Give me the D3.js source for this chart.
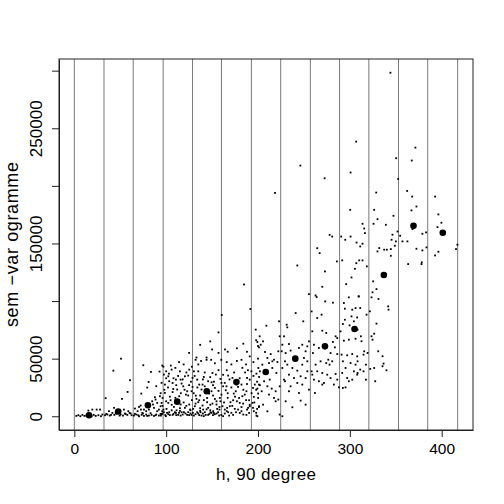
<!DOCTYPE html>
<html>
<head>
<meta charset="utf-8">
<script src="https://cdn.jsdelivr.net/npm/d3@7"></script>
<style>
  body { margin: 0; background: #fff; }
  svg text { font-family: "Liberation Sans", Arial, Helvetica, sans-serif; fill: #000; }
</style>
</head>
<body>
<div id="my_dataviz"></div>
<script>
var width = 504;
var height = 504;

// variogram cloud: lag distance h and semivariance (in thousands)
var cloudH = [
  2.2,4.4,6.6,8.8,11,13.1,18.9,21.1,23.3,26.2,29,30.5,15.3,19.6,24.3,28,
  33.4,35.9,38.5,41.4,43.5,45.7,50.4,53,55.1,57.7,60.2,62.4,37.7,43.2,54,58.8,
  50.8,42.5,60.6,58,34.1,51.9,
  64.9,67.5,70.4,73.3,75.8,78.3,81.2,84.1,86.7,89.2,92.1,95,
  66,70.4,72.2,68.9,75.8,84.8,90.3,93.9,86.7,92.1,88.5,95.7,81.2,74,
  75.1,83.4,92.8,80.9,79.4,89.2,72.9,87.7,93.2,95.7,
  34.8,39.9,45,49.3,55.9,61.3,66,69.6,74.7,79.4,83,88.5,93.9,72.5,78.3,90.3,85.6,
  137,148,150,157,164,167,177,184,188,198,200,144,133,125,
  97,105,110,114,132,135,138,144,149,153,160,166,171,177,182,187,191,195,200,119,128,
  95,100,103,108,113,118,122,127,131,135,140,142,148,152,157,162,166,169,174,180,186,189,195,199,202,100,115,
  94,98,102,107,111,116,120,125,130,134,137,142,151,157,162,167,171,184,188,193,198,202,151,124,104,
  96,100,106,110,119,122,128,132,137,141,148,153,158,163,167,172,177,182,187,191,196,201,115,144,175,
  95,99,101,104,108,111,114,118,121,125,129,132,136,140,143,147,151,155,160,166,171,176,184,191,198,97,106,115,126,137,148,158,
  184.8,191.7,160.5,157,197.5,
  98.6,103.3,112,116.8,121.5,127.6,133,138.5,144.6,149.4,154.8,160.2,164.9,170,175.8,179.4,185.6,190.3,195.4,200.1,
  96.1,102.3,108.4,113.1,125.1,129.4,134.9,139.6,145.7,150.4,155.5,161.3,166.4,174.7,180.1,188.1,194.6,
  97.5,105.9,110.6,120.4,125.1,128.7,136,145.7,150.4,159.1,163.8,172.2,176.5,183,191,196.5,201.2,
  94.3,97.5,102.3,109.5,113.1,116.8,124,127.6,133.8,138.5,142.1,149.4,153,157.7,163.8,168.6,180.1,187.4,195.4,
  95,100.4,104.8,111.3,115.7,120.4,126.5,131.2,136,140.3,144.6,151.2,154.8,159.1,163.8,169.3,172.9,178.3,183.8,189.2,193.9,199,
  98.6,107.7,114.2,118.6,122.9,128.7,132.3,139.6,146.8,153,158.4,165.7,173.6,178.3,183,187.4,194.6,200.1,
  102.3,107,115.7,124,130.2,133.8,141,149.4,154.1,160.2,167.5,174.7,182,188.1,192.8,198.3,
  96.1,99.7,103.3,107,110.6,115.7,119.3,122.9,126.5,130.2,134.9,137.4,141,145.7,148.3,151.9,156.6,162,167.5,172.9,182,190.3,198.3,
  218.5,
  201.8,209.1,222.9,199.3,202.9,205.5,201.1,207.6,213.8,217.4,221.1,212,204.7,200.4,215.6,220,212.7,206.6,201.1,199.3,204,210.2,214.9,219.2,223.6,217.4,222.1,212,205.5,201.1,210.2,219.2,223.6,199.3,215.6,210.2,222.1,223.6,
  231.2,231.9,241,249.3,228.3,226.5,233.7,225.8,230.1,235.5,244.6,248.2,253.7,251.8,255.5,229.4,231.9,237.4,242.8,248.2,253.7,250,226.5,233.7,228.3,239.2,246.4,251.8,242.8,235.5,229.4,248.2,253.7,233.7,244.6,255.5,230.1,246.4,237.4,251.8,226.5,242.8,255.5,
  262.7,263.8,270,272.9,273.2,281.6,258.4,264.5,269.2,259.1,270,274.3,284.5,286.3,260.9,266.3,281.6,283.7,279,286.3,259.8,268.1,274.3,277.9,276.5,280.8,262.7,264.5,259.1,270,275.4,284.5,260.9,266.3,271.8,279,286.3,262,270,282.6,288.1,258.4,
  305.5,301.8,296,298.9,293.5,309.8,294.6,302.6,306.2,301.8,308,294.6,292.4,289.9,299.7,304.4,293.5,298.9,306.2,291,297.1,302.6,308,292.4,300.8,306.2,295.3,304.4,291.7,297.1,302.6,308,292.4,298.9,295.3,
  313.8,315.6,316.4,313.8,311.3,310.2,313.8,318.5,309.5,311.3,318.2,308.4,312,312.7,315.6,314.9,319.3,308.4,311.3,314.9,317.5,317.5,308.4,
  326.5,330.1,325.8,339.2,347.5,346.4,351.9,345.4,350.1,349,344.6,340.3,337.4,332,330.1,344.6,325.4,329,324.7,323.6,331.2,341.7,342.1,321.8,329,326.5,323.6,324.7,330.9,335.6,336.7,335.6,339.9,326.5,322.2,327.6,
  367.1,372.5,354.8,357.3,362.7,368.2,379,383,372.5,379,383.4,363.5,378.3,378,
  396.4,399.7,395.4,396.4,392.8,417.1,415.6,
  344.2,306.9,246.1,272.5,300.8,350.4,367.4,371.4,352.6,328.7,362.4,367.9,392.8,300.4,300.8,278,280.8,290.6,295,264.5,267.1,285.9,291.7,307,307.3
];
var cloudG = [
  0.3,0.9,0,1.2,0.3,0.6,0,1.2,0.3,0.9,0,1.5,4.9,5.8,5.8,5.8,
  0.9,1.5,0.6,2.9,1.2,2.1,1.5,0.6,2.4,1.2,2.9,0.9,4.4,7.3,5.8,4.4,
  50,39.6,31.3,21.1,15.7,15.1,
  0.6,1.5,0,1.2,0.3,1.5,0.6,1.2,0.3,1.5,0.6,1.8,
  6.7,8.1,9.3,4.4,5.8,13,11.6,8.7,7.3,5.8,14.5,4.4,5.8,2.9,
  44.3,38.5,38.8,29.8,24.9,26.1,19.7,16.5,17.4,44,
  2.1,1.2,2.9,0.6,1.8,2.4,2.1,0.9,2.4,0.3,2.7,0.9,2.1,5.8,4.4,4.4,10.2,
  62,65,58,55,58,56,59,63,56,66,61,51,51,55,
  43,44,42,47,49,45,48,49,49,46,49,47,45,48,49,45,52,47,50,45,43,
  29,33,37,33,35,32,38,30,35,39,32,38,34,30,40,36,40,32,38,33,38,40,35,30,39,39,39,
  20,23,25,21,27,20,23,27,20,25,18,26,27,22,26,20,25,23,28,20,23,27,18,18,17,
  9,13,10,16,12,9,14,11,7,14,10,15,8,12,16,9,13,8,14,10,12,8,7,6,17,
  2,1,3,1,2,1,3,1.5,2.4,1,3,1.8,1,2.4,1.2,2,1,2.4,1.2,4.4,3,3.5,1.5,8.7,3,5.8,5.2,4.7,5.8,4.7,5.2,5.8,
  114.4,93.1,87.9,72.8,75.2,
  27.5,30.4,23.2,28.4,18.8,21.7,15.1,23.2,15.9,21.7,13,18.8,22.6,12.2,21.7,15.9,18.8,13.9,16.8,19.7,
  15.9,11.6,8.1,13,10.2,6.4,12.2,9.3,7.3,11,6.4,8.7,7.3,6.4,11.6,5.8,7.3,
  36.2,40.5,31.8,34.7,40.5,33.3,27.5,30.4,37.6,32.4,29,33.3,27.5,42,31.8,27.5,34.1,
  0.6,3.5,1.8,3.5,1.2,3.5,3.5,1.2,3.5,0.6,3.5,2.9,1.8,0.6,2.4,0.6,2.9,1.2,4.4,
  11.6,6.4,13.9,5.2,10.2,7.3,5.2,8.7,13.9,5.8,12.2,4.4,10.2,13,5.8,8.7,13.9,5.8,11,7.3,11.6,6.4,
  20.3,23.7,17.4,26,21.7,25.5,17.9,27.5,19.7,24.6,15.9,26,19.7,25.5,17.4,21.7,24.6,15.9,
  34.7,28.9,31.8,35.3,39,31.8,34.1,29.5,36.2,28.9,35.3,30.4,27.5,33.3,39,37,
  2.4,0.1,3.5,1.2,2.9,0.6,3.5,1.2,2.4,0.6,2.4,3.5,0.1,1.2,3.5,2.9,3.5,0.1,3.5,1.2,4.4,2.9,0.6,
  193.9,
  69.4,78.6,82.4,64.5,62.1,65,59.8,55.8,54,49.1,47.1,46.2,44.8,41.9,41.9,37.6,31.8,30.4,27.5,24,21.7,26,24,21.7,26,15.9,14.5,18.8,10.1,8.7,4.3,13,1.5,0,47.7,50.6,56.4,69.4,
  79.5,77.2,89.6,82.4,69.4,62.1,62.7,56.4,54.9,57,59.3,62.1,60.7,56.4,65,47.7,44.8,41.9,39.6,44.8,47.7,50.6,41.9,36.1,31.8,33.2,34.7,33.2,28.9,26,30.4,27.5,39,21.7,20.2,23.1,13,13.6,7.8,10.1,0,130.9,106,
  104.9,103.5,112.4,125.7,99.7,98.6,91,85.3,88.2,73.7,74.3,72.3,69.4,67.9,62.1,59.3,64.5,59.8,54.9,54,54.9,47.7,46.2,44.8,49.1,47.7,44.8,39,36.1,37.6,36.1,36.7,31.8,30.4,28.9,33.2,31.8,20.2,27.5,27.5,25.1,39,
  128,120.5,114.7,103.2,98.3,104,93.4,92.5,93.9,86.7,85.8,83.8,80.1,73.7,78.9,82.4,65.6,66.5,67.3,53.5,52.9,54,52,47.7,46.2,44.8,41.9,39,37.6,33.2,31.8,36.1,24.6,30.4,25.1,
  167.1,163,159,149.8,147.4,135.3,135.3,130.1,104.1,94,88.2,75.2,69.4,65.1,56.4,53.5,55,47.7,40.5,39,44.8,31.8,37.6,
  179.2,171.1,167.1,166.2,174,157.6,160.4,153.2,151.8,148,145.1,144.6,144.6,146,143.1,139.3,117.1,110.4,107.6,103.2,101.8,95.4,92.5,91.1,80.4,71.7,69.4,66.5,56.4,52.1,45.7,43.4,39.9,41.9,41.1,30.4,
  178.7,182.1,156.7,151.8,151.8,162.5,158.4,159.6,145.4,144,146.6,132.1,133.6,132.1,
  175.2,168,164.2,142.8,139.6,148.9,145.1,
  298.2,238.4,217.6,206.6,211.6,224,222,233.2,206,194.2,195.6,190.7,190.7,179.2,156,157.5,156,156,153.2,145.9,141.6,134.4,135.3,132.9,150.8
];

// binned semivariogram (mean per lag class)
var binH = [16, 47.8, 80.1, 112, 144.2, 176.5, 208.4, 240.6, 272.9, 305.1, 337, 369.3, 401.2];
var binG = [0.9, 4.1, 9.5, 12.7, 21.7, 29.8, 38.4, 50, 60.7, 75.7, 122.6, 165.4, 159.3];

// lag class limits
var breaks = [0, 32.3, 64.1, 96.7, 128.7, 160.2, 192.8, 224.7, 257, 288.8, 320.7, 353, 384.8, 417.4];

var xTicks = [0, 100, 200, 300, 400];
var yTicks = [0, 50000, 100000, 150000, 200000, 250000, 300000];
var yTickLabels = ["0", "50000", "", "150000", "", "250000", ""];

var xLim = [0, 417.4];
var yLim = [0, 298200];

var cloud = cloudH.map((h, i) => ({h: h, g: cloudG[i] * 1000}));
var bins = binH.map((h, i) => ({h: h, g: binG[i] * 1000}));

var plotL = 59, plotR = 473, plotT = 59, plotB = 430;

// R style 4% axis extension
var padX = (xLim[1] - xLim[0]) * 0.04;
var padY = (yLim[1] - yLim[0]) * 0.04;
var x = d3.scaleLinear().domain([xLim[0] - padX, xLim[1] + padX]).range([plotL, plotR]);
var y = d3.scaleLinear().domain([yLim[0] - padY, yLim[1] + padY]).range([plotB, plotT]);

var svg = d3.select("#my_dataviz")
  .append("svg")
    .attr("width", width)
    .attr("height", height);

svg.append("defs").append("clipPath").attr("id", "clip")
  .append("rect")
    .attr("x", plotL).attr("y", plotT)
    .attr("width", plotR - plotL).attr("height", plotB - plotT);

var plot = svg.append("g").attr("clip-path", "url(#clip)");

// vertical lines at lag class limits
plot.selectAll(".brk")
  .data(breaks)
  .enter()
  .append("line")
    .attr("class", "brk")
    .attr("x1", d => x(d)).attr("x2", d => x(d))
    .attr("y1", plotT).attr("y2", plotB)
    .attr("stroke", "#7a7a7a")
    .attr("stroke-width", 1);

// cloud points
plot.selectAll(".pt")
  .data(cloud)
  .enter()
  .append("rect")
    .attr("class", "pt")
    .attr("x", d => x(d.h) - 0.9)
    .attr("y", d => y(d.g) - 0.9)
    .attr("width", 1.8)
    .attr("height", 1.8)
    .attr("fill", "#000");

// binned means
plot.selectAll(".bin")
  .data(bins)
  .enter()
  .append("circle")
    .attr("class", "bin")
    .attr("cx", d => x(d.h))
    .attr("cy", d => y(d.g))
    .attr("r", 3.3)
    .attr("fill", "#000");

// box
svg.append("rect")
  .attr("x", plotL).attr("y", plotT)
  .attr("width", plotR - plotL).attr("height", plotB - plotT)
  .attr("fill", "none")
  .attr("stroke", "#222")
  .attr("stroke-width", 1);

// x axis
var xAxis = d3.axisBottom(x).tickValues(xTicks).tickSize(7).tickSizeOuter(0).tickFormat(d3.format("d"));
var gx = svg.append("g").attr("transform", "translate(0," + plotB + ")").call(xAxis);
gx.select(".domain").attr("stroke", "#222");
gx.selectAll(".tick line").attr("stroke", "#222");
gx.selectAll(".tick text")
  .attr("y", 24)
  .attr("dy", null)
  .style("font-size", "15.5px")
  .style("font-family", "'Liberation Sans', Arial, sans-serif");

// y axis, labels parallel to the axis
var yAxis = d3.axisLeft(y).tickValues(yTicks).tickSize(7).tickSizeOuter(0).tickFormat((d, i) => yTickLabels[i]);
var gy = svg.append("g").attr("transform", "translate(" + plotL + ",0)").call(yAxis);
gy.select(".domain").attr("stroke", "#222");
gy.selectAll(".tick line").attr("stroke", "#222");
gy.selectAll(".tick text")
  .attr("x", null).attr("dy", null)
  .attr("text-anchor", "middle")
  .attr("transform", "translate(-17,0) rotate(-90)")
  .style("font-size", "17px")
  .style("font-family", "'Liberation Sans', Arial, sans-serif");

// axis titles
svg.append("text")
  .attr("x", (plotL + plotR) / 2)
  .attr("y", 480)
  .attr("text-anchor", "middle")
  .attr("textLength", 100)
  .attr("lengthAdjust", "spacing")
  .style("font-size", "17px")
  .text("h, 90 degree");

svg.append("text")
  .attr("transform", "translate(18," + ((plotT + plotB) / 2) + ") rotate(-90)")
  .attr("text-anchor", "middle")
  .attr("textLength", 165)
  .attr("lengthAdjust", "spacing")
  .style("font-size", "18px")
  .text("sem \u2212var ogramme");
</script>
</body>
</html>
